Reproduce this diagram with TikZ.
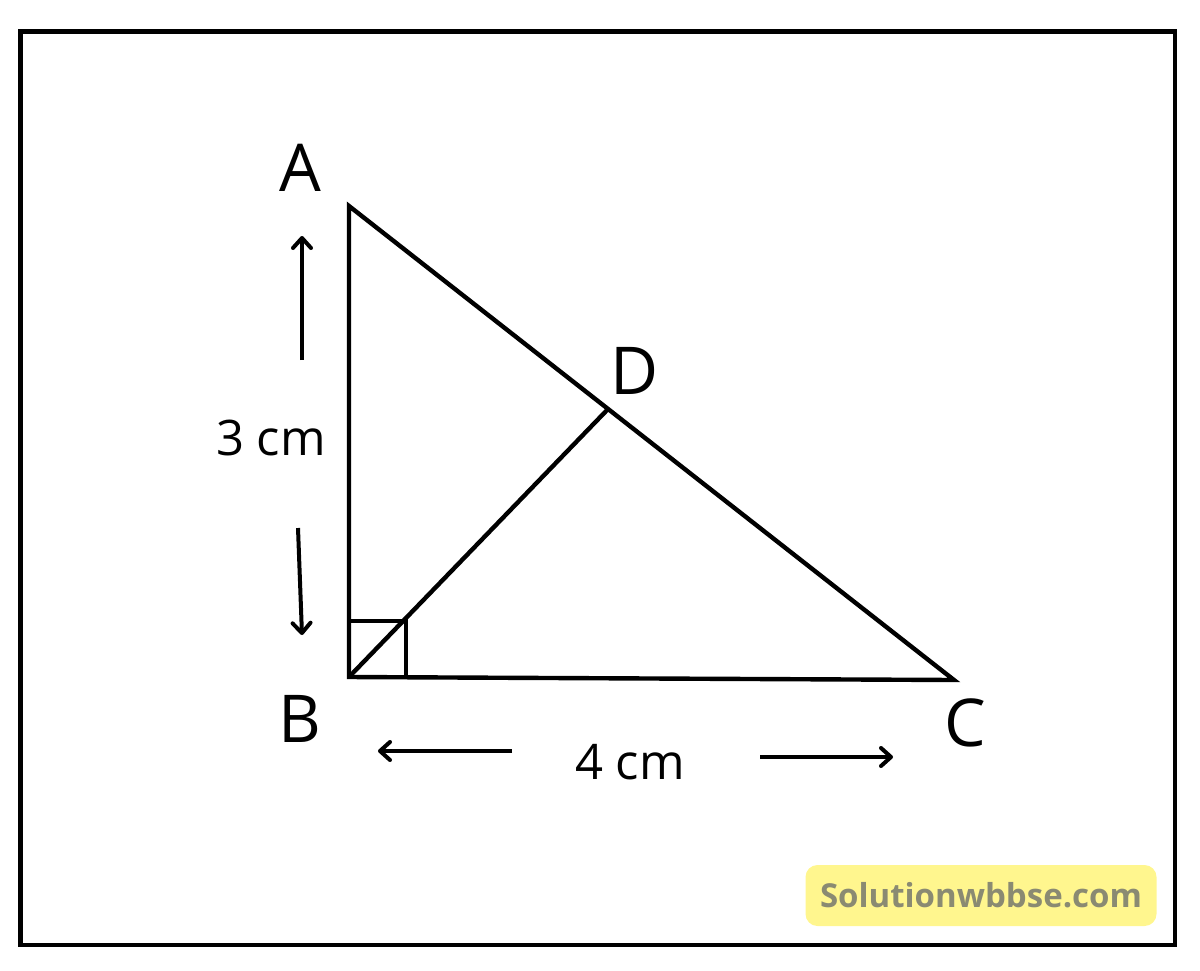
\documentclass[tikz,border=0pt]{standalone}
\usepackage{fontspec}
\setmainfont{Open Sans}
\usetikzlibrary{positioning,arrows.meta}
\definecolor{markyellow}{HTML}{FFF68E}
\definecolor{markgrey}{HTML}{8A8A72}
\begin{document}
\begin{tikzpicture}[
        x=0.5pt, y=-0.5pt,
        >={Straight Barb[length=5pt,width=9pt,round]},
        edge/.style={line width=2.2pt},
        dim/.style={->, line width=2pt},
        vlabel/.style={font=\fontsize{33}{38}\selectfont, inner sep=0pt},
        dimlabel/.style={font=\fontsize{24.5}{28}\selectfont, inner sep=0pt},
        tag/.style={fill=markyellow, rounded corners=6pt, minimum width=175.5pt, minimum height=30.5pt, text=markgrey, font=\fontsize{16.5}{20}\selectfont\bfseries}
    ]
    \useasboundingbox (0,0) rectangle (1200,970);
    % Cadre
    \draw[line width=2.4pt] (20.5,31.5) rectangle (1175,945);

    % Sommets
    \coordinate (A) at (349,206);
    \coordinate (B) at (349,677);
    \coordinate (C) at (954,680);
    \coordinate (D) at (609,408);
    \coordinate (sq1) at (349,621);
    \coordinate (sq2) at (406,621);
    \coordinate (sq3) at (406,677);

    % Noms
    \node[vlabel] (labA) at (300,168) {A};
    \node[vlabel] (labB) at (300,719) {B};
    \node[vlabel] (labC) at (965,723) {C};
    \node[vlabel] (labD) at (635,371) {D};
    \node[dimlabel] (len3) at (271,438) {3 cm};
    \node[dimlabel] (len4) at (630,762) {4 cm};

    % Triangle
    \draw[edge, line join=miter] (A) -- (B) -- (C) -- cycle;
    \draw[edge] (B) -- (D);
    \draw[edge] (sq1) -- (sq2) -- (sq3);

    % Flèches
    \coordinate (up1) at (302,360);
    \coordinate (up2) at (302,236);
    \coordinate (dn1) at (298,528);
    \coordinate (dn2) at (302,635);
    \coordinate (lt1) at (512,751);
    \coordinate (lt2) at (378,751);
    \coordinate (rt1) at (760,757);
    \coordinate (rt2) at (893,757);
    \draw[dim] (up1) -- (up2);
    \draw[dim] (dn1) -- (dn2);
    \draw[dim] (lt1) -- (lt2);
    \draw[dim] (rt1) -- (rt2);

    % Marque
    \node[tag] (site) at (981,895.5) {Solutionwbbse.com};
\end{tikzpicture}
\end{document}
